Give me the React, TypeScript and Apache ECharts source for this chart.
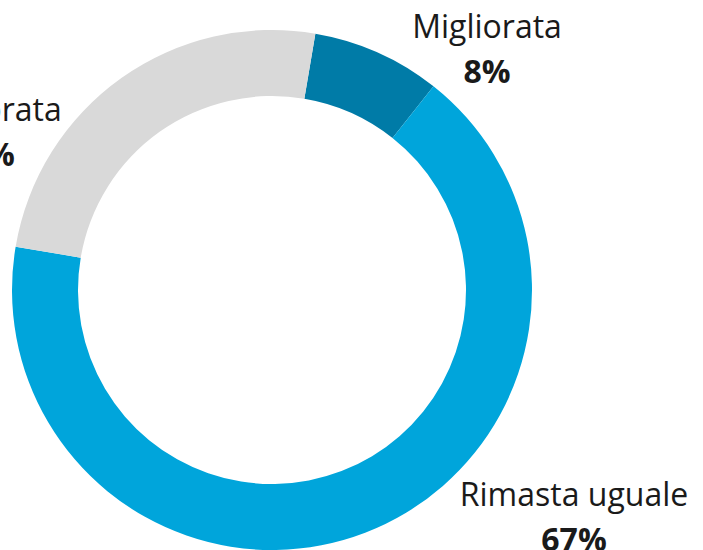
import React, { useEffect, useRef } from "react";
import * as echarts from "echarts";

const categories = ["Migliorata", "Rimasta uguale", "Peggiorata"];
const values = [8, 67, 25];
const colors = ["#007ba7", "#00a5db", "#d9d9d9"];
const labelCenters: [number, number][] = [
  [487, 48],
  [574, 516],
  [-18, 131],
];

export default function App() {
  const ref = useRef<HTMLDivElement>(null);
  useEffect(() => {
    document.body.style.margin = "0";
    const chart = echarts.init(ref.current!, null, { renderer: "svg" });
    chart.setOption({
      animation: false,
      series: [
        {
          type: "pie",
          center: [272, 290],
          radius: [194, 260],
          startAngle: 80.4,
          clockwise: true,
          silent: true,
          data: categories.map((name, i) => ({
            name,
            value: values[i],
            itemStyle: { color: colors[i] },
          })),
          label: {
            show: true,
            position: "inside",
            overflow: "none",
            formatter: "{n|{b}}\n{p|{c}%}",
            color: "#1a1a1a",
            fontFamily: "Open Sans",
            fontSize: 32,
            lineHeight: 45,
            rich: {
              n: {
                fontFamily: "Open Sans",
                fontSize: 32,
                lineHeight: 45,
                color: "#1a1a1a",
                align: "center",
              },
              p: {
                fontFamily: "Open Sans",
                fontWeight: "bold",
                fontSize: 32,
                lineHeight: 45,
                color: "#1a1a1a",
                align: "center",
              },
            },
          },
          labelLine: { show: false },
          labelLayout: (params: any) => {
            const c = labelCenters[params.dataIndex];
            return { x: c[0], y: c[1], align: "center", verticalAlign: "middle", fontSize: 32 };
          },
        },
      ],
    });
    return () => chart.dispose();
  }, []);
  return <div ref={ref} style={{ width: 703, height: 550 }} />;
}
